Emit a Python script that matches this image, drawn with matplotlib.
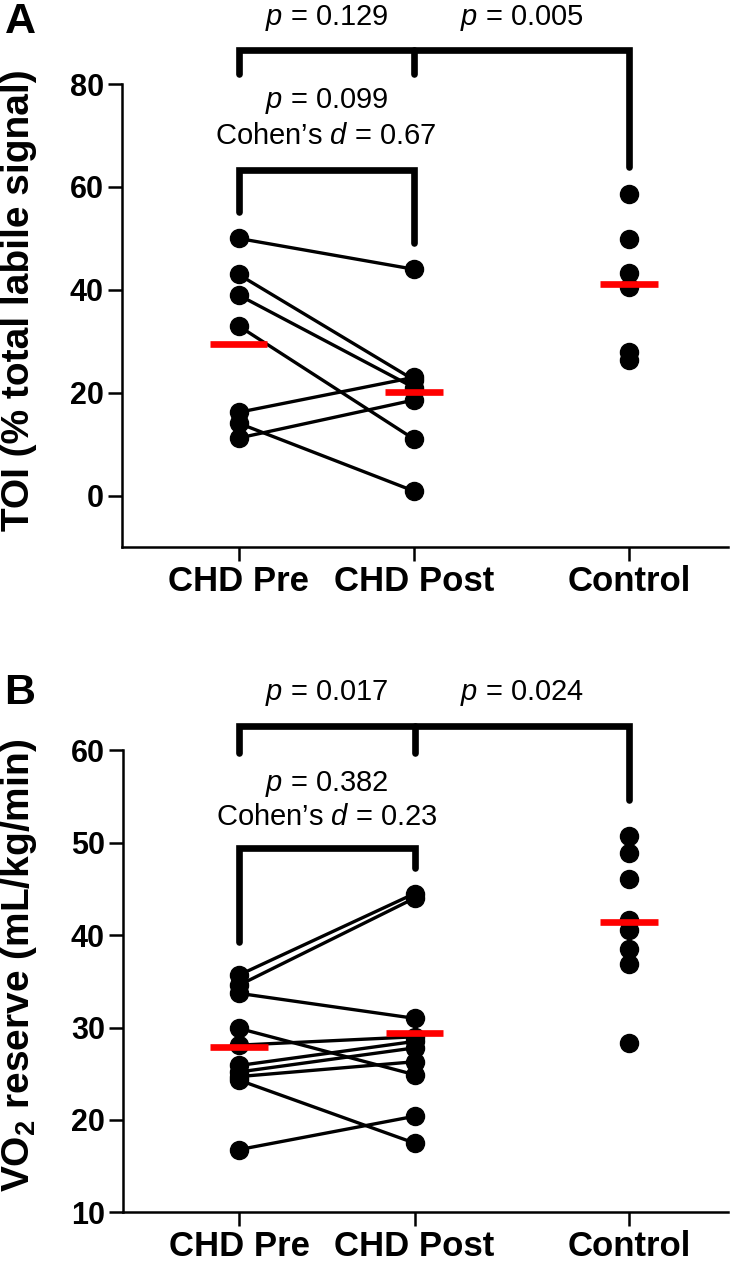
import matplotlib
matplotlib.use("Agg")
import matplotlib.pyplot as plt

plt.rcParams["font.family"] = ["Liberation Sans", "DejaVu Sans"]
plt.rcParams["mathtext.fontset"] = "custom"
plt.rcParams["mathtext.rm"] = "Liberation Sans"
plt.rcParams["mathtext.it"] = "Liberation Sans:italic"
plt.rcParams["mathtext.bf"] = "Liberation Sans:bold"

groups = ["CHD Pre", "CHD Post", "Control"]
xpos = [0, 1, 2.225]

# panel A: TOI
toi_pre = [50, 43, 39, 33, 16.2, 14.1, 11.2]
toi_post = [44, 22.5, 21, 11, 23, 0.9, 18.6]
toi_ctrl = [58.6, 49.8, 43.2, 40.6, 28.0, 26.4]

# panel B: VO2 reserve
vo2_pre = [35.7, 34.6, 33.7, 29.9, 28.1, 25.9, 25.2, 24.7, 24.3, 16.8]
vo2_post = [44.5, 44.0, 31.0, 24.9, 29.0, 28.5, 27.8, 26.3, 17.5, 20.4]
vo2_ctrl = [50.7, 48.9, 46.1, 41.6, 40.6, 38.5, 36.9, 28.3]

panels = [
    dict(letter="A", pre=toi_pre, post=toi_post, ctrl=toi_ctrl,
         ylim=(-10, 80), yticks=[0, 20, 40, 60, 80],
         ylabel="TOI (% total labile signal)",
         p_top=["0.129", "0.005"], p_pair="0.099", d_pair="0.67",
         top=(86.7, 81.9, 63.9), pair=(63.3, 55.2, 49.2),
         txt=(92.8, 76.6, 69.8),
         rect=[122 / 731, 1 - 547.2 / 1262, 606 / 731, 463.2 / 1262],
         ylab_y=1 - 300 / 1262, letter_y=1 - 22 / 1262),
    dict(letter="B", pre=vo2_pre, post=vo2_post, ctrl=vo2_ctrl,
         ylim=(10, 60), yticks=[10, 20, 30, 40, 50, 60],
         ylabel="VO$_{\\mathbf{2}}$ reserve (mL/kg/min)",
         p_top=["0.017", "0.024"], p_pair="0.382", d_pair="0.23",
         top=(62.6, 59.7, 54.6), pair=(49.4, 39.3, 47.3),
         txt=(66.2, 56.3, 52.8),
         rect=[123 / 731, 1 - 1212.4 / 1262, 605 / 731, 462.1 / 1262],
         ylab_y=1 - 965 / 1262, letter_y=1 - 693 / 1262),
]

fig = plt.figure(figsize=(7.31, 12.62), dpi=100)

for pan in panels:
    ax = fig.add_axes(pan["rect"])
    x0, x1, x2 = xpos
    for a, b in zip(pan["pre"], pan["post"]):
        ax.plot([x0, x1], [a, b], color="black", lw=2.4, marker="o",
                ms=13, clip_on=False, zorder=3)
    ax.plot([x2] * len(pan["ctrl"]), pan["ctrl"], "o", color="black",
            ms=13, clip_on=False, zorder=3)
    means = [sum(v) / len(v) for v in (pan["pre"], pan["post"], pan["ctrl"])]
    for x, m in zip(xpos, means):
        ax.plot([x - 0.165, x + 0.165], [m, m], color="#ff0000", lw=4.8,
                solid_capstyle="butt", zorder=4)

    # significance brackets
    bk = dict(color="black", lw=4.8, solid_capstyle="round",
              solid_joinstyle="miter", clip_on=False)
    hi, lo, lo_c = pan["top"]
    ax.plot([x0, x0, x2, x2], [lo, hi, hi, lo_c], **bk)
    ax.plot([x1, x1], [hi, lo], **bk)
    ph, pl_pre, pl_post = pan["pair"]
    ax.plot([x0, x0, x1, x1], [pl_pre, ph, ph, pl_post], **bk)

    ty, tp, td = pan["txt"]
    ax.text((x0 + x1) / 2, ty, "$\\mathit{p}$ = " + pan["p_top"][0],
            ha="center", va="center", fontsize=21)
    ax.text((x1 + x2) / 2, ty, "$\\mathit{p}$ = " + pan["p_top"][1],
            ha="center", va="center", fontsize=21)
    ax.text((x0 + x1) / 2, tp, "$\\mathit{p}$ = " + pan["p_pair"],
            ha="center", va="center", fontsize=21)
    ax.text((x0 + x1) / 2, td, "Cohen\u2019s $\\mathit{d}$ = " + pan["d_pair"],
            ha="center", va="center", fontsize=21)

    ax.set_xlim(-0.664, 2.789)
    ax.set_ylim(*pan["ylim"])
    ax.set_yticks(pan["yticks"])
    ax.set_xticks(xpos)
    ax.set_xticklabels(groups, fontsize=25, fontweight="bold")
    ax.set_yticklabels([str(t) for t in pan["yticks"]], fontsize=22,
                       fontweight="bold")
    ax.spines[["top", "right"]].set_visible(False)
    for s in ("left", "bottom"):
        ax.spines[s].set_linewidth(1.8)
    ax.tick_params(length=10, width=1.8, pad=3)

    fig.text(19 / 731, pan["ylab_y"], pan["ylabel"], rotation=90,
             ha="center", va="center", fontsize=28, fontweight="bold")
    fig.text(20 / 731, pan["letter_y"], pan["letter"], ha="center",
             va="center", fontsize=31, fontweight="bold")

fig.savefig("out.png", dpi=100)
